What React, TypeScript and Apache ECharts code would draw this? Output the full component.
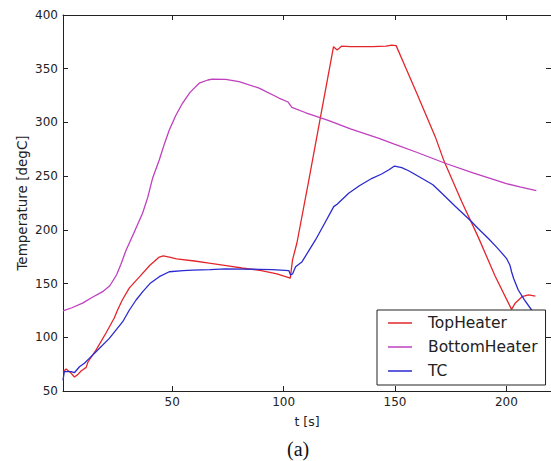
import React, { useEffect, useRef } from "react";
import * as echarts from "echarts";

// ---- data ----
const seriesNames = ["TopHeater", "BottomHeater", "TC"];
const xTicks = [50, 100, 150, 200];

const topT = [1, 2.4, 4.6, 6.1, 7.5, 9.1, 11.4, 12.2, 15.8, 20.3, 24, 25.4, 27.6, 30.8, 35.2, 40, 44.2, 46, 48.7, 52, 60, 66.6, 75, 81.3, 90, 97, 103, 104, 106, 111.3, 117, 122.4, 124, 126, 130, 140, 146, 148.5, 150.5, 155, 160, 168, 172, 180, 187.4, 194.9, 202.3, 204, 207, 210, 213];
const topV = [67.7, 70.5, 66.7, 63, 65, 68.6, 72, 77, 88, 104, 118, 125, 134.7, 146, 156, 167, 174.7, 175.7, 174.7, 173, 171, 169, 166.5, 164.5, 162, 159, 155, 172, 188, 246, 310, 370.5, 367.5, 371, 370.5, 370.5, 371, 372, 371.5, 350, 326, 287, 264, 226, 193, 157, 126, 132, 137.8, 139.4, 138.4];

const bottomT = [1, 5, 10, 14, 18.8, 22, 25, 27, 29.3, 33, 36.7, 39, 41.2, 44.2, 46.5, 48.7, 51.5, 54.6, 58, 62.1, 66, 68, 74, 80, 89, 97.9, 102, 103.7, 110, 120, 130, 142.8, 150, 160, 172.5, 185, 200, 206, 213.4];
const bottomV = [124.5, 127.5, 132, 137, 142.5, 148, 158, 168, 181, 198, 215.4, 230, 248, 265, 280, 293, 306, 317.8, 328, 336.5, 339.5, 340.4, 340, 338, 332, 322.7, 319, 314, 309, 302, 294, 285.2, 279.5, 272, 262, 253, 243, 240, 236.5];

const tcT = [1, 1.6, 4.7, 6.1, 8.4, 10.6, 12.8, 15.8, 21.8, 27.8, 30.8, 33.8, 36.8, 40, 44.2, 48.7, 55, 59.1, 67, 74, 82, 89, 95, 102.4, 103.1, 104, 105.4, 108.3, 114.3, 118.8, 122.5, 124, 129.2, 134, 139.7, 144, 147.1, 149.8, 153, 156.1, 162, 167, 171, 177, 183.7, 187.4, 191.9, 196, 200, 201.6, 202.3, 203.2, 205.3, 208, 211.3, 214];
const tcV = [60, 68, 68, 67, 72.6, 75.8, 80.4, 86.6, 99, 114.5, 125.4, 134.7, 142.5, 150, 156.4, 161, 162, 162.6, 163, 163.6, 163.5, 163.3, 163, 162, 158, 159, 165.7, 170.4, 190.6, 207.6, 221.6, 223.8, 234, 241, 248, 252, 255.7, 259.4, 258, 255, 248, 242, 234, 222, 209, 201, 192, 183, 173.5, 167, 161, 155, 144, 135, 125.4, 118];

const colors = ["#e3262b", "#bf3fbf", "#2a2ad0"];

const zip = (t: number[], v: number[]) => t.map((x, i) => [x, v[i]]);

const FONT = "DejaVu Sans";
const AX = "#222";

export default function App() {
  const ref = useRef<HTMLDivElement>(null);
  useEffect(() => {
    document.body.style.margin = "0";
    const chart = echarts.init(ref.current!, undefined, { renderer: "svg" });
    const axisLine = { show: true, lineStyle: { color: AX, width: 1 } };
    const xCommon = {
      type: "value" as const,
      min: 1,
      max: 220,
      splitLine: { show: false },
      axisLine,
    };
    const yCommon = {
      type: "value" as const,
      min: 50,
      max: 400,
      interval: 50,
      splitLine: { show: false },
      axisLine,
    };
    chart.setOption({
      animation: false,
      backgroundColor: "#fff",
      grid: { left: 63, top: 15, width: 490, height: 376 },
      xAxis: [
        {
          ...xCommon,
          position: "bottom",
          name: "t [s]",
          nameLocation: "middle",
          nameGap: 24,
          nameMoveOverlap: false,
          nameTextStyle: { fontFamily: FONT, fontSize: 12.5, color: AX },
          axisTick: { show: true, inside: true, length: 5, lineStyle: { color: AX }, customValues: xTicks },
          axisLabel: { show: true, customValues: xTicks, fontFamily: FONT, fontSize: 12, color: AX, margin: 5 },
        },
        {
          ...xCommon,
          position: "top",
          axisTick: { show: true, inside: true, length: 5, lineStyle: { color: AX }, customValues: xTicks },
          axisLabel: { show: false },
        },
      ],
      yAxis: [
        {
          ...yCommon,
          position: "left",
          name: "Temperature [degC]",
          nameLocation: "middle",
          nameGap: 34,
          nameMoveOverlap: false,
          nameTextStyle: { fontFamily: FONT, fontSize: 13.5, color: AX },
          axisTick: { show: true, inside: true, length: 5, lineStyle: { color: AX } },
          axisLabel: { show: true, fontFamily: FONT, fontSize: 12, color: AX, margin: 5 },
        },
        {
          ...yCommon,
          position: "right",
          axisTick: { show: true, inside: true, length: 5, lineStyle: { color: AX } },
          axisLabel: { show: false },
        },
      ],
      legend: {
        data: seriesNames,
        orient: "vertical",
        left: 377,
        top: 310,
        icon: "rect",
        itemWidth: 24,
        itemHeight: 1.5,
        itemGap: 8,
        padding: [5, 8, 6, 11],
        borderColor: "#222",
        borderWidth: 1,
        backgroundColor: "#fff",
        textStyle: { fontFamily: FONT, fontSize: 15.5, color: "#222", lineHeight: 15, padding: [0, 0, 0, 11] },
      },
      graphic: [
        {
          type: "text",
          left: 287,
          top: 439,
          style: { text: "(a)", font: "20px 'Liberation Serif'", fill: "#111" },
        },
      ],
      series: [
        { name: seriesNames[0], type: "line", data: zip(topT, topV), color: colors[0] },
        { name: seriesNames[1], type: "line", data: zip(bottomT, bottomV), color: colors[1] },
        { name: seriesNames[2], type: "line", data: zip(tcT, tcV), color: colors[2] },
      ].map((s) => ({
        ...s,
        symbol: "none",
        showSymbol: false,
        lineStyle: { width: 1.3, color: s.color },
        itemStyle: { color: s.color },
        z: 2,
      })),
    });
    return () => chart.dispose();
  }, []);
  return (
    <div
      ref={ref}
      style={{ width: 551, height: 461, position: "absolute", left: 0, top: 0 }}
    />
  );
}
